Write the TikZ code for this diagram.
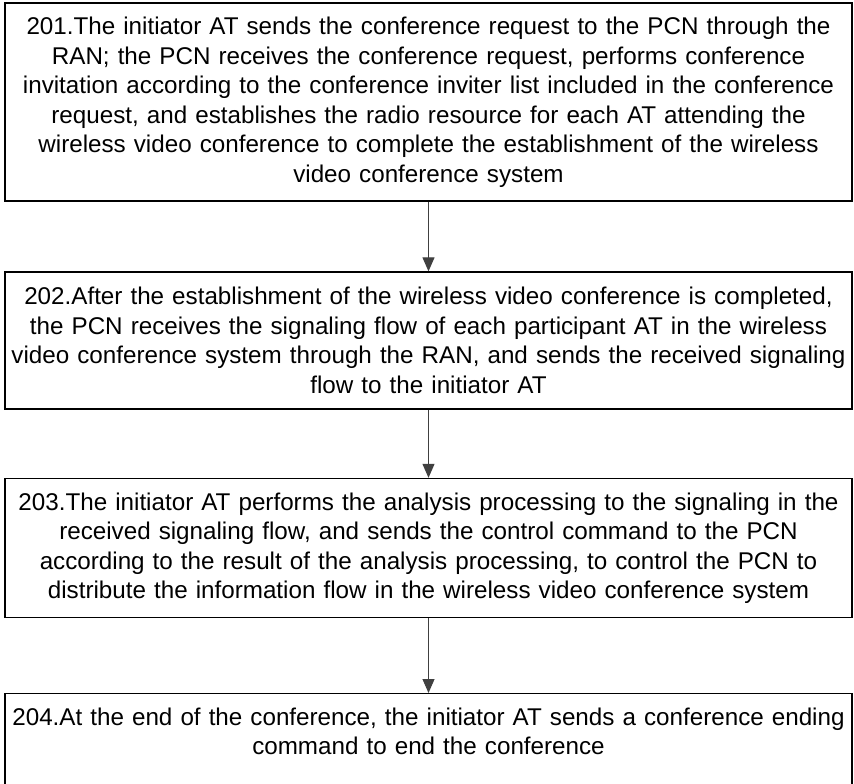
\documentclass[tikz,border=0pt]{standalone}
\usepackage{fontspec}
\setmainfont{Liberation Sans}
\usetikzlibrary{arrows.meta}

\begin{document}
\begin{tikzpicture}[x=1pt, y=1pt,
	stepbox/.style={rectangle, draw, line width=1.3pt, text width=845pt, align=center,
		minimum width=847pt, inner xsep=0pt, inner ysep=14pt,
		font=\fontsize{24.2}{29.5}\selectfont},
	flowarrow/.style={-{Triangle[length=14pt,width=12pt]}, line width=1.1pt, black!75}]

	\useasboundingbox (0,0) rectangle (854,-784);

	\node (s201) [stepbox, minimum height=190pt] at (428.5, -102) {201.The initiator AT sends the conference request to the PCN through the\\ RAN; the PCN receives the conference request, performs conference\\ invitation according to the conference inviter list included in the conference\\ request, and establishes the radio resource for each AT attending the\\ wireless video conference to complete the establishment of the wireless\\ video conference system};
	\node (s202) [stepbox, minimum height=137pt] at (428.5, -340.5) {202.After the establishment of the wireless video conference is completed,\\ the PCN receives the signaling flow of each participant AT in the wireless\\ video conference system through the RAN, and sends the received signaling\\ flow to the initiator AT};
	\node (s203) [stepbox, minimum height=132pt] at (428.5, -548) {203.The initiator AT performs the analysis processing to the signaling in the\\ received signaling flow, and sends the control command to the PCN\\ according to the result of the analysis processing, to control the PCN to\\ distribute the information flow in the wireless video conference system};
	% last box runs past the lower edge
	\node (s204) [stepbox, anchor=north] at (428.5, -693) {204.At the end of the conference, the initiator AT sends a conference ending\\ command to end the conference\rule[-40pt]{0pt}{1pt}};

	\path
	(s201) edge[flowarrow] (s202)
	(s202) edge[flowarrow] (s203)
	(s203) edge[flowarrow] (s204);

\end{tikzpicture}
\end{document}
